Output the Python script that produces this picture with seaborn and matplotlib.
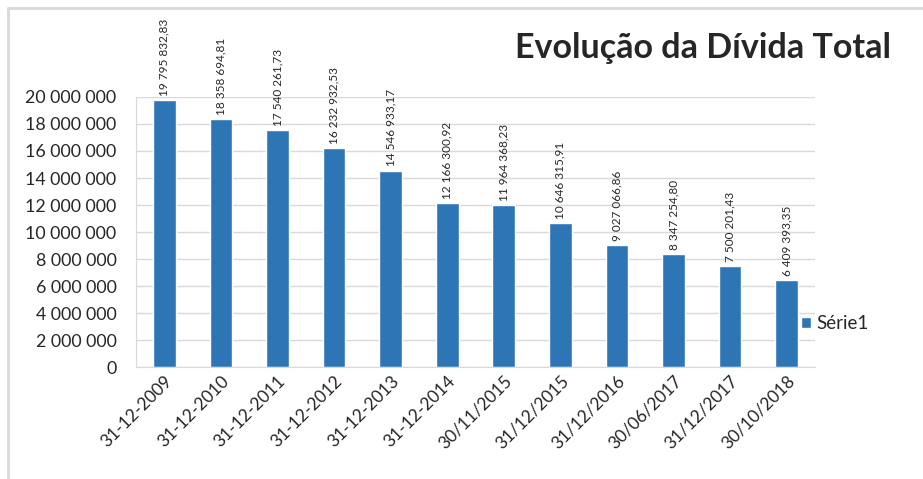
import matplotlib
matplotlib.use("Agg")
import matplotlib.pyplot as plt
from matplotlib.lines import Line2D
from matplotlib.patches import Patch
import seaborn as sns
import pandas as pd

datas = ["31-12-2009", "31-12-2010", "31-12-2011", "31-12-2012", "31-12-2013",
         "31-12-2014", "30/11/2015", "31/12/2015", "31/12/2016", "30/06/2017",
         "31/12/2017", "30/10/2018"]
divida = [19795832.83, 18358694.81, 17540261.73, 16232932.53, 14546933.17,
          12166300.92, 11964368.23, 10646315.91, 9027066.86, 8347254.80,
          7500201.43, 6409393.35]
y_ticks = [0, 2000000, 4000000, 6000000, 8000000, 10000000, 12000000,
           14000000, 16000000, 18000000, 20000000]

sns.set_style("white")
plt.rcParams['font.family'] = ['Lato', 'DejaVu Sans']

BLUE = "#2E75B6"


def fmt_int(v):
    return f"{int(v):,}".replace(",", " ")


def fmt_val(v):
    s = f"{v:,.2f}"
    return s.replace(",", " ").replace(".", ",")


df = pd.DataFrame({"Data": datas, "Divida": divida})

fig = plt.figure(figsize=(9.23, 4.79), dpi=100)
ax = fig.add_axes([0.1473, 0.2338, 0.7357, 0.5637])

sns.barplot(data=df, x="Data", y="Divida", color=BLUE, width=0.4,
            saturation=1, ax=ax)

ax.set_ylim(0, 20000000)
ax.set_xlim(-0.5, len(datas) - 0.5)
ax.set_yticks(y_ticks)
ax.set_yticklabels([fmt_int(t) for t in y_ticks])
ax.tick_params(axis="y", labelsize=12.8, pad=14, length=0)
ax.tick_params(axis="x", labelsize=12.5, length=0, pad=4)
plt.setp(ax.get_xticklabels(), rotation=45, ha="right", rotation_mode="anchor")
ax.set_xlabel("")
ax.set_ylabel("")

ax.grid(axis="y", color="#d9d9d9", linewidth=1)
ax.set_axisbelow(True)
for side in ["top", "right"]:
    ax.spines[side].set_visible(False)
ax.spines["left"].set_color("#d9d9d9")
ax.spines["bottom"].set_color("#d9d9d9")

ax.bar_label(ax.containers[0], labels=[fmt_val(v) for v in divida],
             rotation=90, padding=3, fontsize=8.5, clip_on=False)

fig.text(0.965, 0.9, "Evolução da Dívida Total", ha="right", va="center",
         fontsize=24.5, fontweight="bold")

fig.legend(handles=[Patch(facecolor=BLUE, label="Série1")], loc="center left",
           bbox_to_anchor=(0.849, 0.325), frameon=False, fontsize=13.5,
           handlelength=0.55, handleheight=0.55, handletextpad=0.3)

# moldura cinzenta do gráfico
fig.add_artist(Line2D([0.009, 1.0], [0.983, 0.983], color="#d9d9d9", lw=2))
fig.add_artist(Line2D([0.009, 0.009], [0.0, 0.983], color="#d9d9d9", lw=2))

fig.savefig("out.png", dpi=100)
